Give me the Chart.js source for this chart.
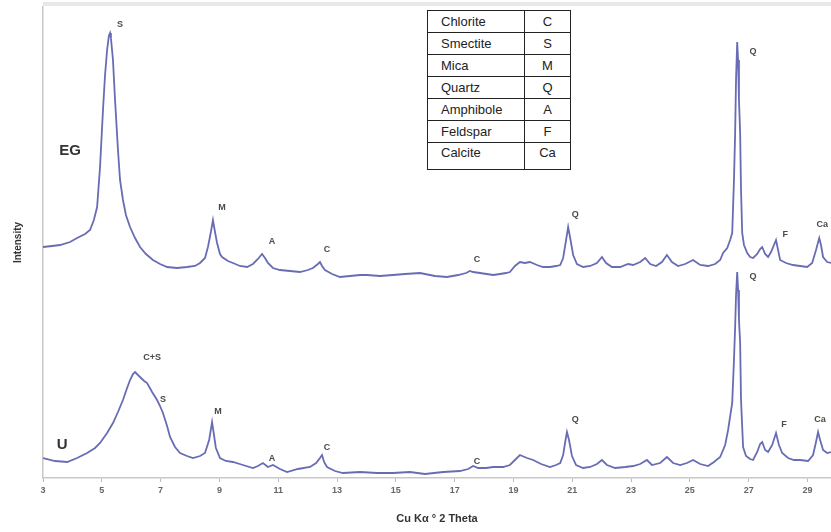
<!DOCTYPE html>
<html>
<head>
<meta charset="utf-8">
<script src="https://cdn.jsdelivr.net/npm/chart.js@4.4.1/dist/chart.umd.min.js"></script>
<style>
  html, body { margin: 0; padding: 0; background: #fff; }
  #wrap { position: relative; width: 831px; height: 532px; }
  #xrd { display: block; }
  #minerals {
    position: absolute; left: 427px; top: 10px;
    border-collapse: collapse; background: #fff;
    font-family: "Liberation Sans", Arial, sans-serif; font-size: 13px; color: #222;
  }
  #minerals td { border: 1px solid #222; padding: 0; height: 21px; line-height: 20px; }
  #minerals td.name { width: 83px; padding-left: 13px; }
  #minerals td.code { width: 45px; text-align: center; }
  #minerals tr:last-child td { height: 26px; vertical-align: top; }
</style>
</head>
<body>
<div id="wrap">
  <canvas id="xrd" width="831" height="532"></canvas>
  <table id="minerals"></table>
</div>
<script>
// 2-theta positions and intensities
const egTheta = [
    3.00, 3.31, 3.58, 3.92, 4.16, 4.43, 4.60, 4.73, 4.84, 4.94,
    5.04, 5.11, 5.18, 5.24, 5.28, 5.31, 5.38, 5.45, 5.55, 5.62,
    5.72, 5.82, 5.96, 6.13, 6.30, 6.50, 6.74, 6.98, 7.22, 7.56,
    7.90, 8.17, 8.34, 8.51, 8.61, 8.71, 8.78, 8.85, 8.92, 9.02,
    9.09, 9.29, 9.46, 9.70, 9.94, 10.14, 10.31, 10.45, 10.55, 10.65,
    10.82, 11.06, 11.40, 11.74, 12.01, 12.18, 12.35, 12.42, 12.49, 12.59,
    12.83, 13.10, 13.44, 13.78, 14.02, 14.46, 14.90, 15.31, 15.82, 16.33,
    16.74, 17.12, 17.39, 17.52, 17.63, 17.86, 18.31, 18.54, 18.75, 18.88,
    19.05, 19.22, 19.39, 19.56, 19.80, 20.01, 20.24, 20.45, 20.59, 20.69,
    20.79, 20.86, 20.93, 21.03, 21.16, 21.37, 21.61, 21.84, 22.01, 22.15,
    22.35, 22.63, 22.90, 23.07, 23.31, 23.48, 23.65, 23.85, 24.05, 24.22,
    24.39, 24.60, 24.84, 25.11, 25.35, 25.62, 25.86, 26.03, 26.13, 26.27,
    26.37, 26.44, 26.50, 26.54, 26.57, 26.61, 26.64, 26.67, 26.71, 26.74,
    26.78, 26.84, 26.95, 27.05, 27.15, 27.29, 27.39, 27.46, 27.56, 27.66,
    27.76, 27.86, 27.93, 28.00, 28.07, 28.27, 28.51, 28.75, 28.99, 29.16,
    29.29, 29.40, 29.46, 29.53, 29.67, 29.80
];
const egCounts = [
    2310, 2320, 2330, 2360, 2400, 2440, 2480, 2580, 2710, 3110,
    3680, 4030, 4280, 4420, 4450, 4400, 4180, 3780, 3280, 2980,
    2780, 2630, 2510, 2400, 2310, 2240, 2180, 2140, 2110, 2100,
    2110, 2120, 2150, 2200, 2310, 2460, 2580, 2460, 2350, 2240,
    2210, 2170, 2150, 2120, 2110, 2140, 2190, 2240, 2200, 2150,
    2100, 2080, 2070, 2060, 2080, 2100, 2140, 2160, 2120, 2080,
    2040, 2010, 2020, 2030, 2030, 2020, 2030, 2040, 2050, 2020,
    2010, 2030, 2050, 2070, 2060, 2050, 2030, 2040, 2050, 2060,
    2120, 2160, 2150, 2160, 2130, 2110, 2110, 2120, 2130, 2200,
    2380, 2510, 2400, 2230, 2140, 2110, 2120, 2150, 2210, 2150,
    2110, 2110, 2140, 2130, 2160, 2200, 2140, 2120, 2160, 2230,
    2160, 2120, 2140, 2180, 2130, 2120, 2140, 2180, 2250, 2300,
    2380, 2450, 2980, 3450, 3980, 4360, 4180, 3780, 3450, 2880,
    2450, 2330, 2250, 2210, 2200, 2240, 2290, 2310, 2240, 2210,
    2260, 2330, 2380, 2280, 2180, 2150, 2130, 2120, 2110, 2150,
    2280, 2400, 2330, 2210, 2160, 2150
];
const uTheta = [
    3.00, 3.41, 3.82, 4.16, 4.50, 4.77, 4.94, 5.18, 5.38, 5.55,
    5.72, 5.86, 5.96, 6.06, 6.13, 6.23, 6.30, 6.44, 6.54, 6.71,
    6.88, 6.98, 7.08, 7.22, 7.32, 7.49, 7.66, 7.90, 8.10, 8.34,
    8.51, 8.65, 8.75, 8.82, 8.88, 9.02, 9.22, 9.46, 9.80, 10.14,
    10.31, 10.48, 10.65, 10.82, 11.06, 11.30, 11.67, 12.08, 12.29, 12.42,
    12.49, 12.56, 12.66, 12.93, 13.20, 13.78, 14.36, 14.90, 15.48, 15.99,
    16.61, 17.18, 17.46, 17.63, 17.80, 18.07, 18.31, 18.65, 18.88, 19.05,
    19.22, 19.46, 19.67, 19.94, 20.24, 20.45, 20.59, 20.69, 20.76, 20.82,
    20.89, 20.99, 21.13, 21.37, 21.61, 21.84, 22.01, 22.18, 22.46, 22.80,
    23.07, 23.31, 23.54, 23.71, 23.99, 24.22, 24.43, 24.67, 24.90, 25.11,
    25.35, 25.62, 25.82, 26.03, 26.20, 26.30, 26.44, 26.50, 26.54, 26.57,
    26.61, 26.64, 26.67, 26.71, 26.74, 26.81, 26.91, 27.05, 27.15, 27.29,
    27.39, 27.46, 27.56, 27.66, 27.80, 27.93, 28.03, 28.14, 28.34, 28.54,
    28.75, 29.02, 29.19, 29.29, 29.36, 29.43, 29.53, 29.67, 29.80
];
const uCounts = [
    200, 170, 160, 200, 250, 300, 350, 450, 550, 660,
    780, 900, 980, 1040, 1060, 1030, 1010, 970, 950, 860,
    780, 720, 650, 520, 410, 310, 250, 220, 200, 220,
    250, 380, 560, 420, 300, 200, 170, 160, 130, 100,
    120, 150, 110, 130, 90, 60, 90, 110, 150, 200,
    230, 160, 110, 70, 50, 60, 50, 50, 60, 40,
    60, 70, 90, 120, 100, 100, 110, 110, 130, 180,
    230, 200, 180, 140, 110, 130, 150, 230, 360, 460,
    380, 220, 130, 100, 110, 140, 180, 130, 100, 110,
    120, 140, 180, 130, 150, 210, 150, 130, 150, 180,
    140, 120, 160, 210, 330, 480, 750, 1180, 1510, 1830,
    2060, 1880, 1580, 1350, 780, 310, 220, 190, 180, 260,
    340, 360, 280, 260, 330, 450, 330, 250, 200, 180,
    180, 170, 230, 360, 460, 380, 280, 250, 260
];

const xTickValues = [3, 5, 7, 9, 11, 13, 15, 17, 19, 21, 23, 25, 27, 29];

// peak identifications (text, 2-theta, intensity where the letter sits)
const peakText   = ['S', 'M', 'A', 'C', 'C', 'Q', 'Q', 'F', 'Ca',
                    'C+S', 'S', 'M', 'A', 'C', 'C', 'Q', 'Q', 'F', 'Ca'];
const peakTheta  = [5.62, 9.09, 10.79, 12.66, 17.76, 21.10, 27.15, 28.24, 29.50,
                    6.71, 7.08, 8.95, 10.79, 12.66, 17.76, 21.10, 27.15, 28.20, 29.43];
const peakCounts = [4530, 2700, 2360, 2280, 2180, 2630, 4260, 2430, 2530,
                    1200, 780, 660, 190, 300, 160, 580, 2010, 530, 580];

const sampleText   = ['EG', 'U'];
const sampleTheta  = [3.92, 3.65];
const sampleCounts = [3270, 330];

const mineralNames = ['Chlorite', 'Smectite', 'Mica', 'Quartz', 'Amphibole', 'Feldspar', 'Calcite'];
const mineralCodes = ['C', 'S', 'M', 'Q', 'A', 'F', 'Ca'];

const table = document.getElementById('minerals');
mineralNames.forEach((n, i) => {
    const tr = document.createElement('tr');
    tr.innerHTML = '<td class="name">' + n + '</td><td class="code">' + mineralCodes[i] + '</td>';
    table.appendChild(tr);
});

const toPoints = (xs, ys) => xs.map((x, i) => ({x: x, y: ys[i]}));

const frame = {
    id: 'frame',
    beforeDraw(chart) {
        const {ctx, chartArea} = chart;
        ctx.save();
        ctx.fillStyle = '#e8e8e8';
        ctx.fillRect(chartArea.left, chartArea.top - 5, chart.width - chartArea.left, 4);
        ctx.restore();
    }
};

const peakLabels = {
    id: 'peakLabels',
    afterDatasetsDraw(chart) {
        const {ctx, scales} = chart;
        ctx.save();
        ctx.textAlign = 'center';
        ctx.textBaseline = 'middle';
        ctx.fillStyle = '#4a4a4a';
        ctx.font = 'bold 9px "Liberation Sans", Arial, sans-serif';
        peakText.forEach((t, i) => {
            ctx.fillText(t, scales.x.getPixelForValue(peakTheta[i]), scales.y.getPixelForValue(peakCounts[i]));
        });
        ctx.fillStyle = '#333';
        ctx.font = 'bold 15px "Liberation Sans", Arial, sans-serif';
        sampleText.forEach((t, i) => {
            ctx.fillText(t, scales.x.getPixelForValue(sampleTheta[i]), scales.y.getPixelForValue(sampleCounts[i]));
        });
        ctx.restore();
    }
};

new Chart(document.getElementById('xrd').getContext('2d'), {
    type: 'line',
    data: {
        datasets: [{
            label: 'EG',
            data: toPoints(egTheta, egCounts),
            borderColor: '#676cb5',
            borderWidth: 1.8,
            pointRadius: 0,
            tension: 0
        }, {
            label: 'U',
            data: toPoints(uTheta, uCounts),
            borderColor: '#676cb5',
            borderWidth: 1.8,
            pointRadius: 0,
            tension: 0
        }]
    },
    options: {
        responsive: false,
        animation: false,
        layout: { padding: { top: 7, right: 0, left: 0, bottom: 0 } },
        plugins: {
            legend: { display: false },
            tooltip: { enabled: false }
        },
        scales: {
            x: {
                type: 'linear',
                min: 3,
                max: 29.8,
                afterBuildTicks: s => { s.ticks = xTickValues.map(v => ({value: v})); },
                afterFit: s => { s.height = 54; },
                grid: { drawOnChartArea: false, tickLength: 4, color: '#bbb' },
                border: { color: '#c8c8c8', width: 1.5 },
                ticks: {
                    padding: 3,
                    color: '#666',
                    font: { family: '"Liberation Sans", Arial, sans-serif', size: 9, weight: 'bold' },
                    maxRotation: 0,
                    autoSkip: false
                },
                title: {
                    display: true,
                    text: 'Cu K\u03B1 \u00B0 2 Theta',
                    color: '#333',
                    font: { family: '"Liberation Sans", Arial, sans-serif', size: 11, weight: 'bold' },
                    padding: { top: 0, bottom: 6 }
                }
            },
            y: {
                min: 0,
                max: 4710,
                afterFit: s => { s.width = 43; },
                grid: { display: false },
                border: { color: '#c8c8c8', width: 1.5 },
                ticks: { display: false },
                title: {
                    display: true,
                    text: 'Intensity',
                    color: '#333',
                    font: { family: '"Liberation Sans", Arial, sans-serif', size: 10, weight: 'bold' },
                    padding: { top: 12, bottom: 0 }
                }
            }
        }
    },
    plugins: [frame, peakLabels]
});
</script>
</body>
</html>
